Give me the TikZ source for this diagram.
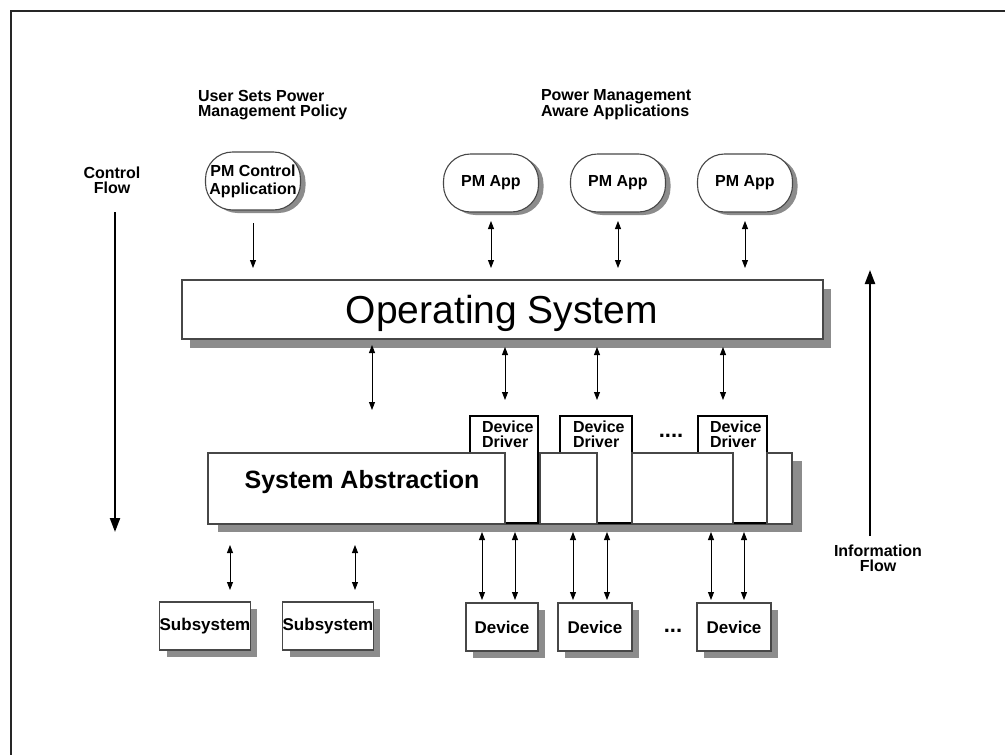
\documentclass[tikz,border=0pt]{standalone}
\usepackage{fontspec}
\setmainfont{Liberation Sans}
\usetikzlibrary{arrows.meta,shadows}
\begin{document}
\begin{tikzpicture}[x=1pt,y=-1pt,
  every node/.style={inner sep=0pt, outer sep=0pt},
  dith/.style={draw=black!72, line width=1.1pt, fill=white},
  pill/.style={dith, rounded corners=27pt, minimum width=95pt, minimum height=58pt,
    font=\bfseries\fontsize{16}{18}\selectfont, align=center,
    drop shadow={shadow xshift=5pt, shadow yshift=-3pt, fill=black!45, opacity=1}},
  head/.style={font=\bfseries\fontsize{16}{14.5}\selectfont, align=left},
  lab/.style={font=\bfseries\fontsize{16}{15}\selectfont, align=center},
  dlab/.style={font=\bfseries\fontsize{16}{15}\selectfont, align=left},
  dots/.style={font=\bfseries\fontsize{22}{22}\selectfont},
  smallbox/.style={dith, minimum height=48pt, font=\bfseries\fontsize{17}{18}\selectfont,
    drop shadow={shadow xshift=7pt, shadow yshift=-7pt, fill=black!45, opacity=1}},
  drv/.style={draw=black, line width=1.8pt, fill=white, minimum height=107pt},
  seg/.style={dith, minimum height=71pt},
  ar/.style={line width=0.9pt, -{Triangle[length=8pt,width=6pt]}},
  dar/.style={line width=0.9pt, {Triangle[length=8pt,width=6pt]}-{Triangle[length=8pt,width=6pt]}},
  flow/.style={line width=2.2pt, -{Triangle[length=14pt,width=10pt]}}
]
\useasboundingbox (0,0) rectangle (1005,755);
\fill[white] (0,0) rectangle (1005,755);
\draw[line width=1.6pt, black!85] (11,755) -- (11,11) -- (1005,11);

% headings
\node[head, anchor=west] (h1) at (198,105) {User Sets Power\\Management Policy};
\node[head, anchor=west] (h2) at (541,105) {Power Management\\Aware Applications};
\node[lab] (cf) at (112,180) {Control\\Flow};
\node[lab] (inf) at (878,558) {Information\\Flow};

% flow arrows
\coordinate (ctop) at (115,212);
\coordinate (cbot) at (115,532);
\draw[flow] (ctop) -- (cbot);
\coordinate (ibot) at (870,536);
\coordinate (itop) at (870,270);
\draw[flow] (ibot) -- (itop);

% applications
\node[pill] (pmc) at (253,181) {PM Control\\Application};
\node[pill] (app1) at (491,183) {PM App};
\node[pill] (app2) at (618,183) {PM App};
\node[pill] (app3) at (745,183) {PM App};

% operating system
\node[dith, minimum width=641pt, minimum height=59pt,
  drop shadow={shadow xshift=8pt, shadow yshift=-9pt, fill=black!45, opacity=1}]
  (os) at (502.5,309.5) {};
\node[font=\fontsize{39}{40}\selectfont] (ost) at (502,313) {Operating System};

\draw[ar, shorten <=13pt, shorten >=12pt] (pmc.south) -- (pmc.south |- os.north);
\draw[dar, shorten <=9pt, shorten >=12pt] (app1.south) -- (app1.south |- os.north);
\draw[dar, shorten <=9pt, shorten >=12pt] (app2.south) -- (app2.south |- os.north);
\draw[dar, shorten <=9pt, shorten >=12pt] (app3.south) -- (app3.south |- os.north);

% system abstraction strip
\node[seg, minimum width=584pt,
  drop shadow={shadow xshift=10pt, shadow yshift=-8pt, fill=black!45, opacity=1}]
  (strip) at (500,488.5) {};
\node[drv, minimum width=68pt] (d1) at (504,469.5) {};
\node[drv, minimum width=72pt] (d2) at (596,469.5) {};
\node[drv, minimum width=69pt] (d3) at (732.5,469.5) {};
\node[dlab, anchor=west] (d1t) at (482,434) {Device\\Driver};
\node[dlab, anchor=west] (d2t) at (573,434) {Device\\Driver};
\node[dlab, anchor=west] (d3t) at (710,434) {Device\\Driver};
\node[dots] (dots1) at (671,436) {....};

\node[seg, minimum width=297pt] (sa) at (356.5,488.5) {};
\node[font=\bfseries\fontsize{25}{26}\selectfont] (sat) at (362,482) {System Abstraction};
\node[seg, minimum width=57pt] (s2) at (568.5,488.5) {};
\node[seg, minimum width=101pt] (s3) at (682.5,488.5) {};
\node[seg, minimum width=25pt] (s4) at (779.5,488.5) {};

\draw[dar, shorten <=6pt, shorten >=43pt] ([xshift=-130.5pt]os.south) -- ([xshift=-130.5pt]os.south |- sa.north);
\draw[dar, shorten <=8pt, shorten >=16pt] ([xshift=1pt]d1.north |- os.south) -- ([xshift=1pt]d1.north);
\draw[dar, shorten <=8pt, shorten >=16pt] ([xshift=1pt]d2.north |- os.south) -- ([xshift=1pt]d2.north);
\draw[dar, shorten <=8pt, shorten >=16pt] ([xshift=-9.5pt]d3.north |- os.south) -- ([xshift=-9.5pt]d3.north);

% bottom boxes
\node[smallbox, minimum width=88pt] (sub1) at (205,626) {Subsystem};
\node[smallbox, minimum width=88pt] (sub2) at (328,626) {Subsystem};
\node[smallbox, minimum width=72pt] (dev1) at (502,627) {Device};
\node[smallbox, minimum width=74pt] (dev2) at (595,627) {Device};
\node[smallbox, minimum width=74pt] (dev3) at (734,627) {Device};
\node[dots] (dots2) at (673,631) {...};

\draw[dar, shorten <=21pt, shorten >=12pt] ([xshift=25pt]sub1.north |- strip.south) -- ([xshift=25pt]sub1.north);
\draw[dar, shorten <=21pt, shorten >=12pt] ([xshift=27pt]sub2.north |- strip.south) -- ([xshift=27pt]sub2.north);
\draw[dar, shorten <=8pt, shorten >=3pt] ([xshift=-20pt]dev1.north |- strip.south) -- ([xshift=-20pt]dev1.north);
\draw[dar, shorten <=8pt, shorten >=3pt] ([xshift=13pt]dev1.north |- strip.south) -- ([xshift=13pt]dev1.north);
\draw[dar, shorten <=8pt, shorten >=3pt] ([xshift=-22pt]dev2.north |- strip.south) -- ([xshift=-22pt]dev2.north);
\draw[dar, shorten <=8pt, shorten >=3pt] ([xshift=12pt]dev2.north |- strip.south) -- ([xshift=12pt]dev2.north);
\draw[dar, shorten <=8pt, shorten >=3pt] ([xshift=-23pt]dev3.north |- strip.south) -- ([xshift=-23pt]dev3.north);
\draw[dar, shorten <=8pt, shorten >=3pt] ([xshift=10pt]dev3.north |- strip.south) -- ([xshift=10pt]dev3.north);
\end{tikzpicture}
\end{document}
